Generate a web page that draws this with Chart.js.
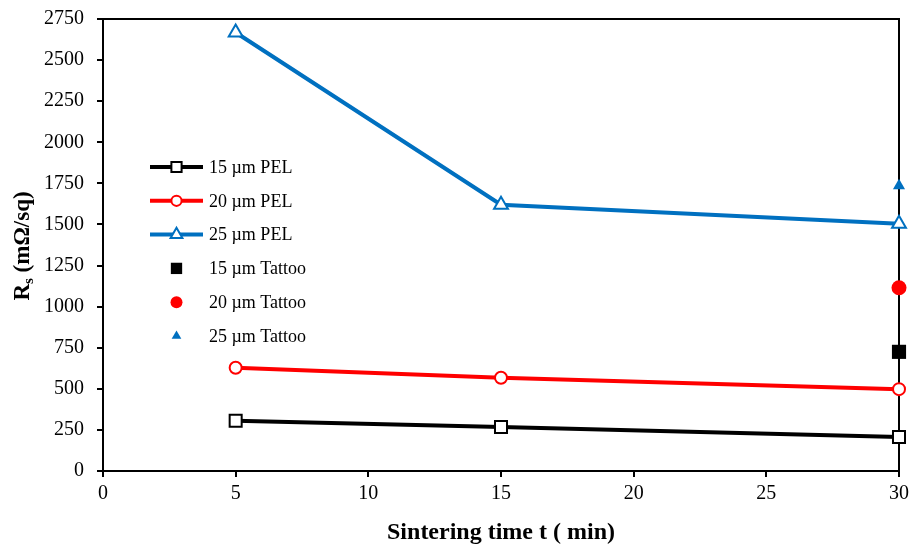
<!DOCTYPE html>
<html>
<head>
<meta charset="utf-8">
<script src="https://cdn.jsdelivr.net/npm/chart.js@4/dist/chart.umd.min.js"></script>
<style>
  html, body { margin: 0; padding: 0; background: #fff; }
  #wrap { position: relative; width: 912px; height: 545px; }
</style>
</head>
<body>
<div id="wrap"><canvas id="c" width="912" height="545"></canvas></div>
<script>
// ---- data ----
const times = [5, 15, 30];
const pel15 = [306, 268, 207];
const pel20 = [628, 567, 498];
const pel25 = [2668, 1620, 1505];
const tattooTime = [30];
const tattoo15 = [725];
const tattoo20 = [1115];
const tattoo25 = [1735];
const xTicks = [0, 5, 10, 15, 20, 25, 30];
const yTicks = [0, 250, 500, 750, 1000, 1250, 1500, 1750, 2000, 2250, 2500, 2750];
const seriesNames = ['15 µm PEL', '20 µm PEL', '25 µm PEL', '15 µm Tattoo', '20 µm Tattoo', '25 µm Tattoo'];

const FONT = '"Liberation Serif", "Times New Roman", serif';
const BLACK = '#000000', RED = '#ff0000', BLUE = '#0070c0';

function pts(xs, ys) { return xs.map((x, i) => ({ x: x, y: ys[i] })); }

const datasets = [
  { label: seriesNames[0], data: pts(times, pel15), showLine: true, borderColor: BLACK, borderWidth: 4,
    pointStyle: 'rect', pointRadius: 8.5, pointBorderWidth: 2, pointBorderColor: BLACK, pointBackgroundColor: '#fff' },
  { label: seriesNames[1], data: pts(times, pel20), showLine: true, borderColor: RED, borderWidth: 4,
    pointStyle: 'circle', pointRadius: 6, pointBorderWidth: 2, pointBorderColor: RED, pointBackgroundColor: '#fff' },
  { label: seriesNames[2], data: pts(times, pel25), showLine: true, borderColor: BLUE, borderWidth: 4,
    pointStyle: 'triangle', pointRadius: 8, pointBorderWidth: 2, pointBorderColor: BLUE, pointBackgroundColor: '#fff' },
  { label: seriesNames[3], data: pts(tattooTime, tattoo15), showLine: false, borderColor: BLACK,
    pointStyle: 'rect', pointRadius: 10, pointBorderWidth: 0, pointBackgroundColor: BLACK },
  { label: seriesNames[4], data: pts(tattooTime, tattoo20), showLine: false, borderColor: RED,
    pointStyle: 'circle', pointRadius: 7.5, pointBorderWidth: 0, pointBackgroundColor: RED },
  { label: seriesNames[5], data: pts(tattooTime, tattoo25), showLine: false, borderColor: BLUE,
    pointStyle: 'triangle', pointRadius: 7, pointBorderWidth: 0, pointBackgroundColor: BLUE }
];
datasets.forEach(d => { d.clip = false; d.tension = 0; d.pointHoverRadius = d.pointRadius; });

// frame (top & right border) + custom legend + y title with subscript
const extras = {
  id: 'extras',
  beforeDatasetsDraw(chart) {
    const { ctx, chartArea: a } = chart;
    ctx.save();
    ctx.strokeStyle = '#000';
    ctx.lineWidth = 2;
    ctx.beginPath();
    ctx.moveTo(a.left, a.top); ctx.lineTo(a.right, a.top); ctx.lineTo(a.right, a.bottom);
    ctx.stroke();
    ctx.restore();
  },
  afterDraw(chart) {
    const { ctx } = chart;
    // legend
    const lx0 = 150, lx1 = 203, tx = 209, y0 = 167, dy = 33.8;
    ctx.save();
    ctx.font = '18px ' + FONT;
    ctx.textBaseline = 'middle';
    chart.data.datasets.forEach((d, i) => {
      const y = y0 + i * dy;
      const cx = (lx0 + lx1) / 2;
      if (d.showLine) {
        ctx.strokeStyle = d.borderColor; ctx.lineWidth = d.borderWidth;
        ctx.beginPath(); ctx.moveTo(lx0, y); ctx.lineTo(lx1, y); ctx.stroke();
      }
      ctx.fillStyle = d.pointBackgroundColor;
      ctx.strokeStyle = d.pointBorderColor || d.borderColor;
      ctx.lineWidth = d.pointBorderWidth;
      const r = d.showLine ? d.pointRadius * 0.85 : d.pointRadius * 0.8;
      Chart.helpers.drawPoint(ctx, { pointStyle: d.pointStyle, radius: r, borderWidth: d.pointBorderWidth, rotation: 0 }, cx, y);
      ctx.fillStyle = '#000';
      ctx.fillText(d.label, tx, y + 1);
    });
    ctx.restore();

    // y axis title with subscript
    ctx.save();
    ctx.translate(23, 246);
    ctx.rotate(-Math.PI / 2);
    ctx.fillStyle = '#000';
    ctx.textBaseline = 'middle';
    const big = 'bold 23px ' + FONT, small = 'bold 15px ' + FONT;
    const p1 = 'R', p2 = 's', p3 = ' (mΩ/sq)';
    ctx.font = big; const w1 = ctx.measureText(p1).width, w3 = ctx.measureText(p3).width;
    ctx.font = small; const w2 = ctx.measureText(p2).width;
    let x = -(w1 + w2 + w3) / 2;
    ctx.font = big; ctx.fillText(p1, x, 0); x += w1;
    ctx.font = small; ctx.fillText(p2, x, 6); x += w2;
    ctx.font = big; ctx.fillText(p3, x, 0);
    ctx.restore();
  }
};

new Chart(document.getElementById('c'), {
  type: 'scatter',
  data: { datasets: datasets },
  plugins: [extras],
  options: {
    responsive: false,
    animation: false,
    events: [],
    layout: { padding: { top: 19, right: 13, left: 0, bottom: 0 } },
    plugins: { legend: { display: false }, tooltip: { enabled: false } },
    scales: {
      x: {
        type: 'linear', min: 0, max: 30,
        afterBuildTicks: s => { s.ticks = xTicks.map(v => ({ value: v })); },
        afterFit: s => { s.height = 74; s.paddingLeft = 0; s.paddingRight = 0; },
        grid: { display: true, drawOnChartArea: false, drawTicks: true, tickLength: 6, color: '#000', lineWidth: 2 },
        border: { display: true, color: '#000', width: 2 },
        ticks: { color: '#000', font: { family: FONT, size: 20 }, padding: 5, maxRotation: 0, callback: v => String(v) },
        title: { display: true, text: 'Sintering time t ( min)', color: '#000', font: { family: FONT, size: 24, weight: 'bold' }, padding: { top: 10, bottom: -2 } }
      },
      y: {
        type: 'linear', min: 0, max: 2750,
        afterBuildTicks: s => { s.ticks = yTicks.map(v => ({ value: v })); },
        afterFit: s => { s.width = 103; s.paddingTop = 0; s.paddingBottom = 0; },
        grid: { display: true, drawOnChartArea: false, drawTicks: true, tickLength: 6, color: '#000', lineWidth: 2 },
        border: { display: true, color: '#000', width: 2 },
        ticks: { color: '#000', font: { family: FONT, size: 20 }, padding: 13, callback: v => String(v) },
        title: { display: false }
      }
    }
  }
});
</script>
</body>
</html>
